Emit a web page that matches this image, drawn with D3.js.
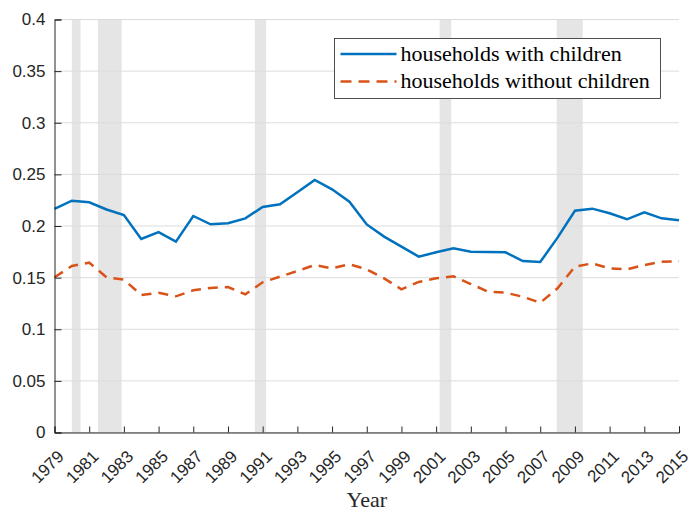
<!DOCTYPE html>
<html>
<head>
<meta charset="utf-8">
<script src="https://cdn.jsdelivr.net/npm/d3@7"></script>
<style>
  body { margin: 0; background: #fff; }
  svg { display: block; }
</style>
</head>
<body>
<div id="chart"></div>
<script>
// data
const years = d3.range(1979, 2016);
const withChildren = [0.2165, 0.2245, 0.223, 0.216, 0.2107, 0.1874, 0.194, 0.1848, 0.2097, 0.2016,
  0.2026, 0.2074, 0.2184, 0.221, 0.2326, 0.2446, 0.2355, 0.2235, 0.2015, 0.1897,
  0.18, 0.1703, 0.1745, 0.1784, 0.1751, 0.1748, 0.1745, 0.1661, 0.1651, 0.1887,
  0.2148, 0.2168, 0.2123, 0.2065, 0.2133, 0.2074, 0.2055];
const withoutChildren = [0.1503, 0.1613, 0.1645, 0.1503, 0.148, 0.1332, 0.1354, 0.1319, 0.1377, 0.14,
  0.1409, 0.1338, 0.1455, 0.1509, 0.1564, 0.1622, 0.159, 0.1629, 0.158, 0.1493,
  0.1387, 0.1458, 0.1493, 0.1513, 0.1438, 0.1364, 0.1354, 0.1315, 0.1257, 0.1397,
  0.1606, 0.1638, 0.159, 0.158, 0.1622, 0.1654, 0.1658];
// recessions (start, end) in fractional years
const recessions = [[1980.0, 1980.5], [1981.5, 1982.87], [1990.55, 1991.2], [2001.2, 2001.87], [2007.95, 2009.45]];
const yTicks = [0, 0.05, 0.1, 0.15, 0.2, 0.25, 0.3, 0.35, 0.4];
const xTicks = d3.range(1979, 2016, 2);
const seriesNames = ['households with children', 'households without children'];

let width = 691;
let height = 512;
let margin = { left: 54.5, right: 12, top: 19.5, bottom: 79.5 };

let svg = d3.select('#chart').append('svg')
  .attr('width', width)
  .attr('height', height);

let x = d3.scaleLinear().domain([1979, 2015]).range([margin.left, width - margin.right]);
let y = d3.scaleLinear().domain([0, 0.4]).range([height - margin.bottom, margin.top]);

const axisColor = '#262626';

// recession shading
svg.selectAll('rect.rec')
  .data(recessions)
  .enter()
  .append('rect')
  .attr('x', d => x(d[0]))
  .attr('width', d => x(d[1]) - x(d[0]))
  .attr('y', y(0.4))
  .attr('height', y(0) - y(0.4))
  .attr('fill', '#e5e5e5');

// grid lines
svg.selectAll('line.grid')
  .data(yTicks)
  .enter()
  .append('line')
  .attr('x1', x(1979))
  .attr('x2', x(2015))
  .attr('y1', d => y(d))
  .attr('y2', d => y(d))
  .attr('stroke', '#dcdcdc')
  .attr('stroke-width', 1);

// lines
let line = d3.line()
  .x((d, i) => x(years[i]))
  .y(d => y(d));

svg.append('path')
  .datum(withChildren)
  .attr('d', line)
  .attr('fill', 'none')
  .attr('stroke', '#0072BD')
  .attr('stroke-width', 2.5);

svg.append('path')
  .datum(withoutChildren)
  .attr('d', line)
  .attr('fill', 'none')
  .attr('stroke', '#D95319')
  .attr('stroke-width', 2.5)
  .attr('stroke-dasharray', '10,7');

// y axis
let yAxis = d3.axisLeft(y).tickValues(yTicks).tickSize(-7)
  .tickFormat(d => d === 0 ? '0' : String(+d.toFixed(2)))
  .tickPadding(9);
let gy = svg.append('g')
  .attr('transform', 'translate(' + margin.left + ',0)')
  .call(yAxis);
gy.select('.domain').attr('stroke', axisColor);
gy.selectAll('.tick line').attr('stroke', axisColor);
gy.selectAll('.tick text')
  .attr('fill', axisColor)
  .style('font-family', '"Liberation Sans", Arial, sans-serif')
  .style('font-size', '17px');

// x axis
let xAxis = d3.axisBottom(x).tickValues(xTicks).tickSize(-6).tickFormat(d3.format('d'));
let gx = svg.append('g')
  .attr('transform', 'translate(0,' + y(0) + ')')
  .call(xAxis);
gx.select('.domain').attr('stroke', axisColor);
gx.selectAll('.tick line').attr('stroke', axisColor);
gx.selectAll('.tick text')
  .attr('fill', axisColor)
  .style('font-family', '"Liberation Sans", Arial, sans-serif')
  .style('font-size', '17px')
  .attr('text-anchor', 'end')
  .attr('y', 0)
  .attr('dy', 0)
  .attr('transform', 'translate(10,25) rotate(-45)');

// x label
svg.append('text')
  .attr('x', (x(1979) + x(2015)) / 2)
  .attr('y', 507)
  .attr('text-anchor', 'middle')
  .style('font-family', '"Liberation Serif", "Times New Roman", serif')
  .style('font-size', '22px')
  .attr('fill', axisColor)
  .text('Year');

// legend
let lg = svg.append('g').attr('transform', 'translate(334.5,38.5)');
lg.append('rect')
  .attr('width', 326)
  .attr('height', 60)
  .attr('fill', '#fff')
  .attr('stroke', '#262626')
  .attr('stroke-width', 0.8);
const legendColors = ['#0072BD', '#D95319'];
const legendDash = [null, '11,7'];
seriesNames.forEach((name, i) => {
  let cy = 15.5 + i * 27.5;
  lg.append('line')
    .attr('x1', 6).attr('x2', 62)
    .attr('y1', cy).attr('y2', cy)
    .attr('stroke', legendColors[i])
    .attr('stroke-width', 2.5)
    .attr('stroke-dasharray', legendDash[i]);
  lg.append('text')
    .attr('x', 66)
    .attr('y', cy + 6.5)
    .style('font-family', '"Liberation Serif", "Times New Roman", serif')
    .style('font-size', '22px')
    .attr('fill', '#000')
    .text(name);
});
</script>
</body>
</html>
